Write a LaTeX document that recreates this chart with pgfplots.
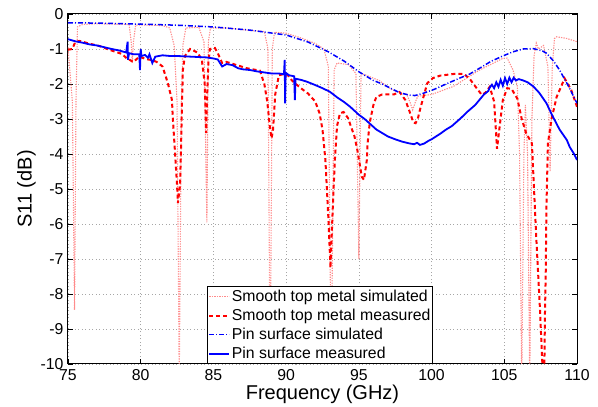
\documentclass[border=0pt]{standalone}
\usepackage{fontspec}
\setmainfont{Liberation Sans}
\usepackage{pgfplots}
\pgfplotsset{compat=1.18}
\definecolor{pinksim}{RGB}{255,140,140}
\begin{document}
\begin{tikzpicture}
\begin{axis}[
  scale only axis, width=509pt, height=350pt,
  xmin=75, xmax=110, ymin=-10, ymax=0,
  xtick={75,80,85,90,95,100,105,110},
  xticklabels={75,80,85,90,95,100,105,110},
  ytick={-10,-9,-8,-7,-6,-5,-4,-3,-2,-1,0},
  yticklabels={-10,-9,-8,-7,-6,-5,-4,-3,-2,-1,0},
  tick align=inside, major tick length=5pt,
  tick style={black, line width=0.8pt},
  axis line style={line width=1pt},
  grid=major,
  major grid style={gray!70, line width=0.6pt, dash pattern=on 1pt off 2.5pt},
  tick label style={font=\fontsize{15.8}{18}\selectfont},
  xticklabel style={yshift=-2pt},
  yticklabel style={xshift=-1pt},
  xlabel={Frequency (GHz)}, ylabel={S11 (dB)},
  label style={font=\fontsize{20}{22}\selectfont},
  xlabel style={yshift=3pt},
  ylabel style={yshift=-2pt},
  legend style={at={(0.2731,0)}, anchor=south west, draw=black, line width=0.8pt,
    font=\fontsize{15.8}{18}\selectfont, inner xsep=1pt, inner ysep=2pt,
    row sep=3pt, nodes={inner sep=1.5pt}},
  legend cell align=left,
  legend image code/.code={\draw[#1] (0pt,0pt) -- (20pt,0pt);},
]
% Smooth top metal simulated
\addplot[pinksim, line width=1.1pt, dash pattern=on 1.3pt off 1.2pt] coordinates {
(75.0,-0.95)(75.3,-2.5)(75.45,-8.45)(75.55,-2.5)(75.65,-0.37)(76.0,-0.3)(77,-0.28)(78,-0.29)
(79.2,-0.3)(79.35,-0.8)(79.42,-1.4)(79.5,-0.8)(79.65,-0.32)(80.5,-0.32)(81.5,-0.33)
(82.0,-0.4)(82.3,-0.9)(82.5,-2.5)(82.65,-10.5)(82.8,-2.5)(82.9,-0.9)(83.1,-0.4)
(84.0,-0.38)(84.35,-0.8)(84.55,-5.95)(84.65,-0.8)(84.8,-0.4)(86,-0.4)(87.5,-0.47)
(88.5,-0.5)(88.75,-1.0)(88.9,-10.5)(89.05,-1.0)(89.2,-0.52)(90,-0.55)(91,-0.68)(92,-0.84)
(92.6,-1.0)(92.9,-1.5)(93.1,-10.5)(93.3,-1.6)(93.5,-1.4)(94.3,-1.45)(94.8,-1.7)(95.0,-7)
(95.15,-1.7)(95.5,-1.75)(96.4,-1.9)(97.3,-2.17)(98.3,-2.3)(98.5,-2.5)(98.7,-2.74)(98.9,-2.5)
(99.05,-2.35)(100,-2.3)(101.5,-2.07)(103.3,-1.6)(104.9,-1.27)(105.2,-1.26)(105.6,-1.6)
(105.9,-2.07)(106.05,-4)(106.2,-10.5)(106.35,-4)(106.45,-2.6)(106.6,-4)(106.75,-10.5)
(106.9,-3)(107.05,-1.2)(107.2,-0.83)(107.35,-1.0)(107.7,-0.9)(108.0,-1.5)(108.15,-4.5)
(108.3,-1.5)(108.45,-0.7)(108.6,-0.65)(109.3,-0.7)(110,-0.79)
};
\addlegendentry{Smooth top metal simulated}
% Smooth top metal measured
\addplot[red, line width=2pt, dash pattern=on 4pt off 3pt] coordinates {
(75.0,-1.02)(75.3,-1.0)(75.5,-0.8)(75.8,-0.77)(76.5,-0.85)(77.2,-0.92)(77.9,-1.03)
(78.7,-1.14)(79.05,-1.27)(79.5,-1.37)(79.9,-1.22)(80.4,-1.29)(80.8,-1.32)(81.1,-1.37)
(81.5,-1.5)(81.87,-1.98)(82.15,-2.46)(82.2,-2.93)(82.35,-3.9)(82.5,-4.9)(82.56,-5.4)
(82.7,-4.9)(82.77,-3.9)(82.84,-2.5)(82.9,-1.6)(83.04,-1.2)(83.4,-1.0)(83.9,-1.1)
(84.2,-1.3)(84.4,-1.98)(84.5,-3.4)(84.55,-2.5)(84.65,-1.4)(84.76,-1.0)(85.1,-0.97)
(85.3,-1.12)(85.6,-1.4)(85.9,-1.37)(86.6,-1.46)(87.3,-1.55)(88.2,-1.62)(88.5,-2.0)
(88.7,-2.5)(88.9,-3.3)(89.0,-3.55)(89.1,-3.3)(89.25,-2.3)(89.5,-1.75)(89.8,-1.72)
(90.1,-1.74)(90.4,-1.9)(90.95,-2.1)(91.5,-2.27)(92.0,-2.5)(92.3,-2.84)(92.5,-3.3)
(92.7,-4.17)(92.9,-5.8)(93.05,-7.25)(93.2,-5.6)(93.35,-4.17)(93.5,-3.2)(93.7,-2.84)
(93.95,-2.8)(94.25,-2.97)(94.7,-3.5)(94.9,-3.89)(95.2,-4.65)(95.35,-4.74)(95.55,-4.17)
(95.6,-3.7)(95.75,-3.1)(96.0,-2.6)(96.2,-2.37)(96.6,-2.3)(97.0,-2.3)(97.4,-2.3)
(97.8,-2.23)(98.2,-2.46)(98.5,-2.8)(98.75,-3.1)(98.9,-3.12)(99.05,-3.0)(99.2,-2.74)
(99.7,-1.98)(100.1,-1.83)(100.6,-1.76)(101.0,-1.74)(101.6,-1.71)(102.2,-1.71)(102.6,-1.84)
(103.1,-2.12)(103.45,-2.31)(103.7,-2.25)(104.0,-2.08)(104.3,-2.5)(104.5,-3.85)(104.6,-3.5)
(104.9,-2.46)(105.2,-2.12)(105.5,-2.14)(105.9,-2.42)(106.2,-3.0)(106.5,-3.4)(106.9,-3.7)
(107.2,-6.4)(107.45,-8.4)(107.65,-10.3)(107.75,-10.3)(107.8,-8.5)(107.85,-7.4)(107.9,-5.5)
(108.0,-3.7)(108.25,-3.0)(108.6,-2.37)(109.15,-1.84)(109.6,-2.17)(110,-2.65)
};
\addlegendentry{Smooth top metal measured}
% Pin surface simulated
\addplot[blue, line width=1.5pt, dash pattern=on 5pt off 2pt on 1pt off 2pt] coordinates {
(75,-0.25)(77,-0.26)(80,-0.29)(82.5,-0.32)(85,-0.37)(87.5,-0.46)(90,-0.6)(91.5,-0.8)
(92.9,-1.08)(94,-1.35)(95,-1.65)(96,-1.9)(96.6,-2.0)(97.8,-2.25)(98.5,-2.32)(98.85,-2.33)
(99.4,-2.27)(100.2,-2.15)(101,-2.0)(102,-1.82)(102.6,-1.72)(103.3,-1.55)(104.1,-1.35)
(104.9,-1.2)(105.6,-1.08)(106.3,-1.0)(107.0,-0.99)(107.6,-1.05)(107.9,-1.12)(108.4,-1.35)
(108.8,-1.6)(109.4,-2.05)(109.7,-2.3)(110,-2.55)
};
\addlegendentry{Pin surface simulated}
% Pin surface measured
\addplot[blue, line width=1.8pt] coordinates {
(75.0,-0.72)(75.5,-0.78)(76.0,-0.82)(76.5,-0.87)(77.0,-0.90)(77.5,-0.95)(78.0,-1.00)
(78.5,-1.04)(79.0,-1.10)(79.1,-0.79)(79.12,-1.31)(79.2,-1.12)(79.5,-1.15)(79.9,-1.15)
(79.95,-1.6)(80.0,-1.0)(80.05,-1.2)(80.3,-1.17)(80.5,-1.25)(80.6,-1.15)(80.8,-1.4)
(81.0,-1.22)(81.5,-1.18)(82,-1.2)(82.5,-1.2)(83,-1.21)(83.5,-1.22)(84,-1.23)(84.5,-1.24)
(85,-1.27)(85.3,-1.3)(85.6,-1.5)(85.9,-1.43)(86.3,-1.46)(86.7,-1.55)(87.0,-1.58)
(87.5,-1.6)(88.0,-1.64)(88.5,-1.67)(89.0,-1.7)(89.5,-1.7)(89.85,-1.72)(89.9,-1.31)
(89.93,-2.55)(89.97,-1.68)(90.2,-1.75)(90.55,-1.78)(90.6,-2.46)(90.65,-1.85)(91.0,-1.88)
(91.4,-1.93)(92.0,-2.03)(92.5,-2.12)(93.0,-2.22)(93.5,-2.38)(94.0,-2.52)(94.4,-2.65)
(95.0,-2.88)(95.4,-3.0)(95.8,-3.15)(96.2,-3.3)(96.6,-3.4)(97.0,-3.5)(97.5,-3.58)
(98.0,-3.65)(98.5,-3.7)(98.8,-3.72)(99.0,-3.68)(99.2,-3.74)(99.5,-3.7)(99.8,-3.62)
(100.0,-3.58)(100.3,-3.5)(100.6,-3.42)(101.0,-3.3)(101.4,-3.2)(102.0,-2.98)(102.5,-2.78)
(103.0,-2.6)(103.3,-2.45)(103.6,-2.3)(103.9,-2.2)(104.0,-2.1)(104.15,-2.02)(104.3,-2.12)
(104.45,-1.95)(104.6,-2.08)(104.75,-1.88)(104.9,-2.05)(105.05,-1.83)(105.2,-2.0)
(105.35,-1.82)(105.5,-1.95)(105.65,-1.82)(105.8,-1.9)(106.0,-1.86)(106.3,-1.9)
(106.6,-1.95)(107.0,-2.07)(107.4,-2.25)(107.9,-2.55)(108.3,-2.9)(108.8,-3.3)(109.3,-3.6)
(109.5,-3.8)(109.8,-4.0)(110,-4.17)
};
\addlegendentry{Pin surface measured}
\end{axis}
\path[use as bounding box] ([xshift=-68pt,yshift=-40pt]current axis.south west) rectangle ([xshift=21pt,yshift=14pt]current axis.north east);
\end{tikzpicture}
\end{document}
